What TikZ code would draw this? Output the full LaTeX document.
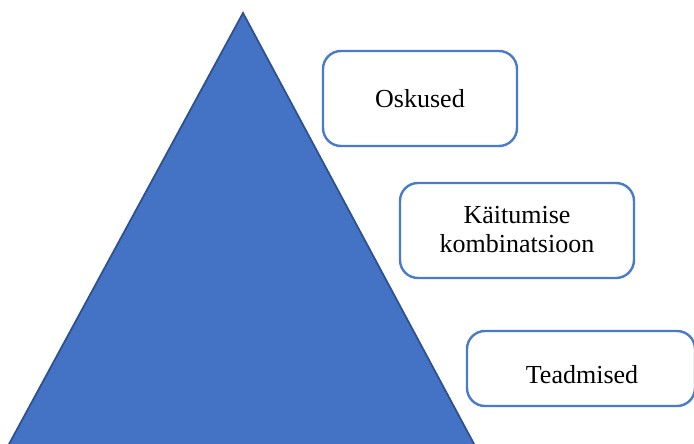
\documentclass[tikz,border=0pt]{standalone}
\usepackage{fontspec}
\setmainfont{Liberation Serif}
\definecolor{tri}{HTML}{4472C4}
\definecolor{triedge}{HTML}{2F528F}
\definecolor{boxedge}{HTML}{4A7BCB}
\tikzset{
  lbl/.style={draw=boxedge, line width=2.4pt, rounded corners=18pt, fill=white},
  txt/.style={font=\fontsize{26}{29}\selectfont, align=center, inner sep=0pt}
}
\begin{document}
\begin{tikzpicture}[x=1pt,y=-1pt]
\useasboundingbox (0,0) rectangle (694,444);
\clip (0,0) rectangle (694,444);
\fill[white] (0,0) rectangle (694,444);
\coordinate (apex) at (243,13);
\coordinate (bl) at (0.4,460);
\coordinate (br) at (482.6,460);
\draw[fill=tri, draw=triedge, line width=1.8pt, line join=miter] (bl) -- (apex) -- (br) -- cycle;
\draw[lbl] (323,51) rectangle (517,146);
\draw[lbl] (400,183) rectangle (634,278);
\draw[lbl] (467,331) rectangle (695,406);
\node[txt] (osk) at (420,99) {Oskused};
\node[txt] (kai) at (517,230) {Käitumise\\kombinatsioon};
\node[txt] (tea) at (582,375) {Teadmised};
\end{tikzpicture}
\end{document}
